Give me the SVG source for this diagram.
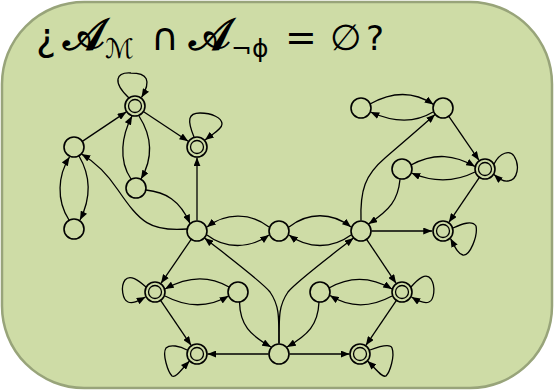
<svg xmlns="http://www.w3.org/2000/svg" width="554" height="391" viewBox="0 0 554 391">
<defs>
<marker id="a" viewBox="0 0 10 8" refX="10" refY="4" markerWidth="9" markerHeight="7" orient="auto" markerUnits="userSpaceOnUse">
<path d="M0,0 L10,4 L0,8 z" fill="#000"/>
</marker>
<style>
.n{fill:#CEDCA6;stroke:#000;stroke-width:1.6}
.in{fill:none;stroke:#000;stroke-width:1.3}
.e{fill:none;stroke:#000;stroke-width:1.3;marker-end:url(#a)}
.t{font-family:"DejaVu Sans","Noto Sans",sans-serif;fill:#000}
.cal{font-size:44px;font-weight:bold}
</style>
</defs>
<rect x="2" y="2" width="550" height="386" rx="82" ry="82" fill="#CEDCA6" stroke="#98A47A" stroke-width="2.5"/>
<text class="t" font-size="38"><tspan x="36" y="50">¿</tspan><tspan class="cal" x="63" y="50">𝒜</tspan><tspan x="105" y="58" font-size="27">ℳ</tspan><tspan x="151" y="50">∩</tspan><tspan class="cal" x="189" y="50">𝒜</tspan><tspan x="231" y="57" font-size="25">¬ϕ</tspan><tspan x="285" y="50">=</tspan><tspan x="330" y="50" font-size="36">∅</tspan><tspan x="366" y="50" font-size="34">?</tspan></text>
<g id="connectors">
<path class="e" d="M82.3,141.4 L126.3,111.9"/>
<path class="e" d="M79,156 C92,178 90,200 80,220"/>
<path class="e" d="M69,220 C56,200 58,175 69.5,157"/>
<path class="e" d="M131,179 C118,160 122,135 132,116"/>
<path class="e" d="M139,116 C153,138 152,160 141,179"/>
<path class="e" d="M143.3,111.5 L188.2,141.2"/>
<path class="e" d="M129,98 C112,82 116,72 131,73 C147,73 152,80 141.5,97.5"/>
<path class="e" d="M194,137 C187,120 188,113 200,113 C212,113 222,118 222,124 C222,129 214,133 205,140"/>
<path class="e" d="M197,220.5 L197,157.5"/>
<path class="e" d="M146,190 C165,192 180,200 190,223.5"/>
<path class="e" d="M187,229 C150,232 140,222 118,190 C108,175 95,162 81.5,154"/>
<path class="e" d="M269,227 C250,212 225,213 207,227"/>
<path class="e" d="M207,235 C225,249 250,249 269,235"/>
<path class="e" d="M289,227 C308,212 332,212 351,227"/>
<path class="e" d="M351,235 C332,249 308,249 289,235"/>
<path class="e" d="M371.5,231 L432,231"/>
<path class="e" d="M361,220.5 C360,190 365,175 385,158 C400,145 420,128 435,114.5"/>
<path class="e" d="M400,179.5 C398,200 390,210 368.5,224"/>
<path class="e" d="M411,165 C435,152 455,155 475,166.5"/>
<path class="e" d="M475,172 C455,182 435,183 411.5,173"/>
<path class="e" d="M370,104 C395,90 415,92 433.5,104.5"/>
<path class="e" d="M433,112 C415,123 395,123 370.5,112"/>
<path class="e" d="M448.7,116.2 L479,160.3"/>
<path class="e" d="M479.4,177.3 L448.9,222.3"/>
<path class="e" d="M494,164 C500,152 510,150 514,156 C520,165 518,180 508,181 C503,182 499,179 494,174.5"/>
<path class="e" d="M453,228 C462,224 472,220 476,226 C478,236 470,256 463,255 C458,254 455,247 450.5,238.5"/>
<path class="e" d="M191.3,239.2 L161,283.3"/>
<path class="e" d="M229,287 C210,276 188,276 165,289"/>
<path class="e" d="M165,296 C188,308 208,308 228.5,296"/>
<path class="e" d="M160.6,300.3 L191.1,345.3"/>
<path class="e" d="M146,287 C138,280 130,274 125,280 C120,287 123,300 128,302 C133,304 138,301 145.5,297"/>
<path class="e" d="M239.5,302 C240,325 250,335 271,347"/>
<path class="e" d="M268.5,354 L207.5,354"/>
<path class="e" d="M279,343.5 C279,315 279,305 270,292 C262,282 230,258 204.5,238"/>
<path class="e" d="M279,343.5 C279,315 279,305 288,292 C296,282 328,258 353.5,238"/>
<path class="e" d="M319,302 C318,325 308,335 287,347"/>
<path class="e" d="M366.6,239.3 L396.1,283.3"/>
<path class="e" d="M329,288 C350,276 370,276 392,289"/>
<path class="e" d="M392,296 C370,308 350,308 330,295.5"/>
<path class="e" d="M396.4,300.3 L365.9,345.3"/>
<path class="e" d="M411,287 C418,279 426,272 431,279 C436,287 434,300 429,302 C424,304 418,301 411.5,297"/>
<path class="e" d="M289.5,354 L349.5,354"/>
<path class="e" d="M187,350 C180,346 170,344 166,348 C162,354 168,372 172,376 C176,378 181,370 189.5,361"/>
<path class="e" d="M370,350 C378,347 390,343 392,348 C395,356 390,372 386,376 C382,378 377,370 367.5,361"/>
</g>
<g id="na"><circle class="n" cx="74" cy="147" r="10"/></g>
<g id="nb"><circle class="n" cx="74" cy="229" r="10"/></g>
<g id="nc"><circle class="n" cx="135" cy="106" r="10"/><circle class="in" cx="135" cy="106" r="6.5"/></g>
<g id="nd"><circle class="n" cx="136" cy="188" r="10"/></g>
<g id="ne"><circle class="n" cx="197" cy="147" r="10"/><circle class="in" cx="197" cy="147" r="6.5"/></g>
<g id="nf"><circle class="n" cx="197" cy="231" r="10"/></g>
<g id="ng"><circle class="n" cx="279" cy="231" r="10"/></g>
<g id="nh"><circle class="n" cx="361" cy="231" r="10"/></g>
<g id="ni"><circle class="n" cx="361" cy="108" r="10"/></g>
<g id="nj"><circle class="n" cx="443" cy="108" r="10"/></g>
<g id="nk"><circle class="n" cx="402" cy="169" r="10"/></g>
<g id="nl"><circle class="n" cx="485" cy="169" r="10"/><circle class="in" cx="485" cy="169" r="6.5"/></g>
<g id="nm"><circle class="n" cx="443" cy="231" r="10"/><circle class="in" cx="443" cy="231" r="6.5"/></g>
<g id="nn"><circle class="n" cx="155" cy="292" r="10"/><circle class="in" cx="155" cy="292" r="6.5"/></g>
<g id="no"><circle class="n" cx="238" cy="292" r="10"/></g>
<g id="np"><circle class="n" cx="320" cy="292" r="10"/></g>
<g id="nq"><circle class="n" cx="402" cy="292" r="10"/><circle class="in" cx="402" cy="292" r="6.5"/></g>
<g id="nr"><circle class="n" cx="197" cy="354" r="10"/><circle class="in" cx="197" cy="354" r="6.5"/></g>
<g id="ns"><circle class="n" cx="279" cy="354" r="10"/></g>
<g id="nt"><circle class="n" cx="360" cy="354" r="10"/><circle class="in" cx="360" cy="354" r="6.5"/></g>
</svg>
